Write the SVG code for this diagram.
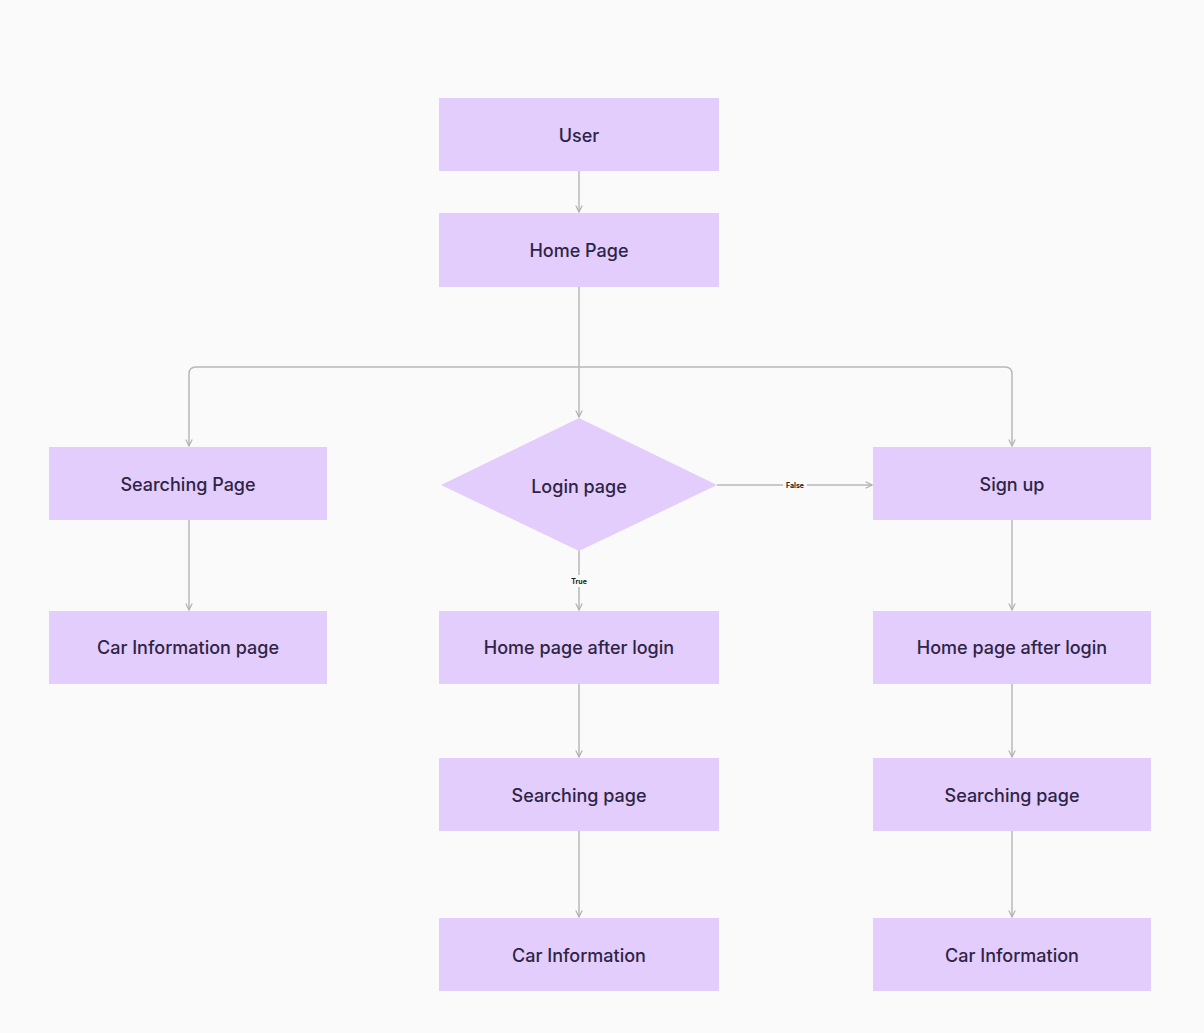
<svg xmlns="http://www.w3.org/2000/svg" width="1204" height="1033" viewBox="0 0 1204 1033">
<defs>
<style>
.box{fill:#e3cdfc;}
.lbl{font-family:Inter,"Liberation Sans",sans-serif;font-size:18px;font-weight:500;fill:#2e2445;text-anchor:middle;dominant-baseline:central;}
.edge{fill:none;stroke:#b8b8b8;stroke-width:1.5;}
.elbl{font-family:Inter,"Liberation Sans",sans-serif;font-size:7px;font-weight:700;fill:#222;text-anchor:middle;dominant-baseline:central;}
</style>
<marker id="arr" viewBox="0 0 10 10" refX="9" refY="5" markerWidth="8" markerHeight="8" orient="auto" markerUnits="userSpaceOnUse">
<path d="M1,1 L9,5 L1,9" fill="none" stroke="#b0b0b0" stroke-width="1.5"/>
</marker>
</defs>
<rect width="1204" height="1033" fill="#fafafa"/>
<g id="connectors">
<path class="edge" d="M579,171 V212" marker-end="url(#arr)"/>
<path class="edge" d="M579,287 V367"/>
<path class="edge" d="M579,367 V417" marker-end="url(#arr)"/>
<path class="edge" d="M579,367 H196 Q189,367 189,374 V446" marker-end="url(#arr)"/>
<path class="edge" d="M579,367 H1005 Q1012,367 1012,374 V446" marker-end="url(#arr)"/>
<path class="edge" d="M189,520 V610" marker-end="url(#arr)"/>
<path class="edge" d="M717,485 H783 M807,485 H872" marker-end="url(#arr)"/>
<text class="elbl" x="795" y="485">False</text>
<path class="edge" d="M579,551 V575 M579,587 V610" marker-end="url(#arr)"/>
<text class="elbl" x="579" y="581">True</text>
<path class="edge" d="M1012,520 V610" marker-end="url(#arr)"/>
<path class="edge" d="M579,684 V757" marker-end="url(#arr)"/>
<path class="edge" d="M1012,684 V757" marker-end="url(#arr)"/>
<path class="edge" d="M579,831 V917" marker-end="url(#arr)"/>
<path class="edge" d="M1012,831 V917" marker-end="url(#arr)"/>
</g>
<g id="user"><rect class="box" x="439" y="98" width="280" height="73"/><text class="lbl" x="579" y="135">User</text></g>
<g id="home"><rect class="box" x="439" y="213" width="280" height="74"/><text class="lbl" x="579" y="250">Home Page</text></g>
<g id="searching-left"><rect class="box" x="49" y="447" width="278" height="73"/><text class="lbl" x="188" y="484">Searching Page</text></g>
<g id="login"><polygon class="box" points="579,418 717,485 579,551 441,485"/><text class="lbl" x="579" y="486">Login page</text></g>
<g id="signup"><rect class="box" x="873" y="447" width="278" height="73"/><text class="lbl" x="1012" y="484">Sign up</text></g>
<g id="carinfo-left"><rect class="box" x="49" y="611" width="278" height="73"/><text class="lbl" x="188" y="647">Car Information page</text></g>
<g id="home-after-mid"><rect class="box" x="439" y="611" width="280" height="73"/><text class="lbl" x="579" y="647">Home page after login</text></g>
<g id="home-after-right"><rect class="box" x="873" y="611" width="278" height="73"/><text class="lbl" x="1012" y="647">Home page after login</text></g>
<g id="search-mid"><rect class="box" x="439" y="758" width="280" height="73"/><text class="lbl" x="579" y="795">Searching page</text></g>
<g id="search-right"><rect class="box" x="873" y="758" width="278" height="73"/><text class="lbl" x="1012" y="795">Searching page</text></g>
<g id="car-mid"><rect class="box" x="439" y="918" width="280" height="73"/><text class="lbl" x="579" y="955">Car Information</text></g>
<g id="car-right"><rect class="box" x="873" y="918" width="278" height="73"/><text class="lbl" x="1012" y="955">Car Information</text></g>
</svg>
